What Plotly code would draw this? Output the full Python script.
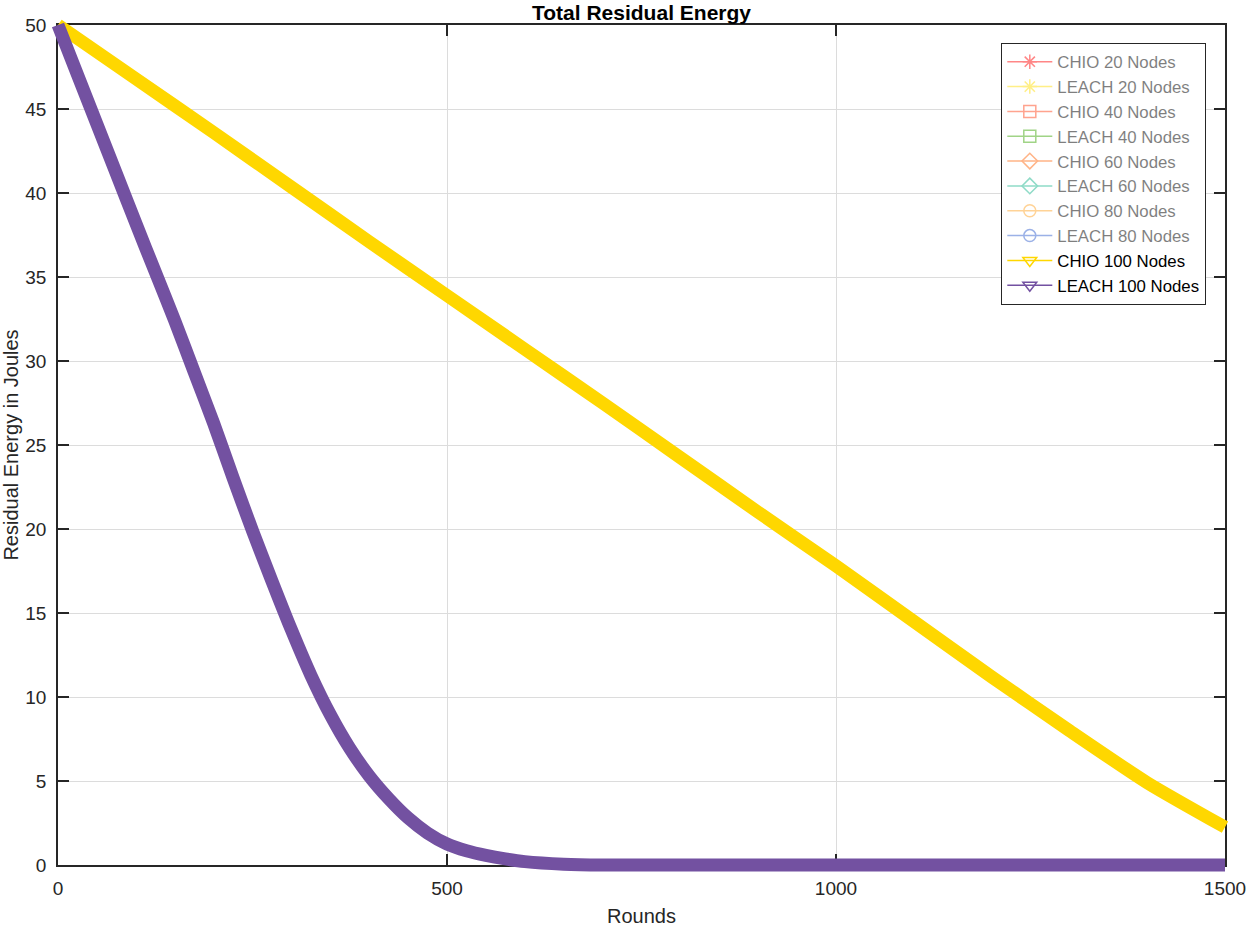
import plotly.graph_objects as go

# ---------------- data ----------------
rounds_chio = [0, 100, 200, 300, 400, 500, 600, 700, 800, 900, 1000,
               1100, 1200, 1300, 1400, 1500]
chio_100 = [50.0, 46.8, 43.6, 40.35, 37.1, 33.9, 30.7, 27.5, 24.25, 21.0, 17.8,
            14.5, 11.2, 8.0, 4.9, 2.25]

rounds_leach = [0, 25, 50, 75, 100, 125, 150, 175, 200, 225, 250, 275, 300, 325,
                350, 375, 400, 425, 450, 475, 500, 525, 550, 575, 600, 650, 700,
                800, 900, 1000, 1100, 1200, 1300, 1400, 1500]
leach_100 = [50.0, 47.05, 44.1, 41.15, 38.2, 35.3, 32.4, 29.35, 26.3, 23.05, 19.9,
             16.9, 14.0, 11.3, 8.95, 6.95, 5.3, 3.95, 2.8, 1.9, 1.25, 0.85, 0.57,
             0.36, 0.2, 0.05, 0.0, 0.0, 0.0, 0.0, 0.0, 0.0, 0.0, 0.0, 0.0]

legend_names = ["CHIO 20 Nodes", "LEACH 20 Nodes", "CHIO 40 Nodes", "LEACH 40 Nodes",
                "CHIO 60 Nodes", "LEACH 60 Nodes", "CHIO 80 Nodes", "LEACH 80 Nodes",
                "CHIO 100 Nodes", "LEACH 100 Nodes"]
legend_colors = ["#FF1010", "#FFE010", "#FF4A20", "#44AA10", "#FF6A10",
                 "#20B890", "#FFA830", "#3A66D0", "#FFD700", "#7351A1"]
legend_symbols = ["asterisk-open", "asterisk-open", "square-open", "square-open",
                  "diamond-open", "diamond-open", "circle-open", "circle-open",
                  "triangle-down-open", "triangle-down-open"]
legend_shown = [False, False, False, False, False, False, False, False, True, True]

x_ticks = [0, 500, 1000, 1500]
y_ticks = [0, 5, 10, 15, 20, 25, 30, 35, 40, 45, 50]

title_text = "Total Residual Energy"
x_title = "Rounds"
y_title = "Residual Energy in Joules"

# ---------------- layout geometry (pixels) ----------------
W, H = 1250, 927
ML, MR, MT, MB = 38, 5, 5, 42          # figure margins
BOX_L, BOX_R, BOX_T, BOX_B = 58, 1225, 25, 865   # axes box in pixels
X_MIN, X_MAX = 0, 1500
Y_MIN, Y_MAX = 0, 50
LEG_R, LEG_T = 1206, 43
TITLE_Y = 12.5

inner_w = W - ML - MR
inner_h = H - MT - MB
dx0 = (BOX_L - ML) / inner_w
dx1 = (BOX_R - ML) / inner_w
dy0 = (H - MB - BOX_B) / inner_h
dy1 = (H - MB - BOX_T) / inner_h

# overlay axes spanning the whole inner area with the same scale (no clipping at box)
xs = (X_MAX - X_MIN) / (BOX_R - BOX_L)
ys = (Y_MAX - Y_MIN) / (BOX_B - BOX_T)
x2_range = [X_MIN - (BOX_L - ML) * xs, X_MAX + (W - MR - BOX_R) * xs]
y2_range = [Y_MIN - (H - MB - BOX_B) * ys, Y_MAX + (BOX_T - MT) * ys]

FONT = "Liberation Sans, Arial, Helvetica, sans-serif"
AX_COLOR = "#262626"
GRID = "#DCDCDC"

fig = go.Figure()

# legend entries (markers + thin line), on the main axes
for i, (nm, col, sym, shown) in enumerate(zip(legend_names, legend_colors,
                                               legend_symbols, legend_shown)):
    fig.add_trace(go.Scatter(
        x=[None], y=[None], mode="lines+markers", name=nm,
        line=dict(color=col, width=1.5),
        marker=dict(symbol=sym, size=12, color=col, line=dict(color=col, width=1.5)),
        visible=True if shown else "legendonly",
        xaxis="x", yaxis="y", legendgroup=f"g{i}",
    ))

# thick data bands (dense markers in the original)
fig.add_trace(go.Scatter(
    x=rounds_chio, y=chio_100, mode="lines", showlegend=False,
    line=dict(color=legend_colors[8], width=13, shape="spline", smoothing=0.6),
    xaxis="x2", yaxis="y2", hoverinfo="skip",
))
fig.add_trace(go.Scatter(
    x=rounds_leach, y=leach_100, mode="lines", showlegend=False,
    line=dict(color=legend_colors[9], width=13, shape="spline", smoothing=0.8),
    xaxis="x2", yaxis="y2", hoverinfo="skip",
))

axis_common = dict(
    showline=True, linecolor=AX_COLOR, linewidth=1.5, mirror="allticks",
    ticks="inside", ticklen=11, tickwidth=1.5, tickcolor=AX_COLOR,
    showgrid=True, gridcolor=GRID, gridwidth=1, zeroline=False,
    tickfont=dict(family=FONT, size=19, color=AX_COLOR),
    fixedrange=True,
)

fig.update_layout(
    width=W, height=H,
    margin=dict(l=ML, r=MR, t=MT, b=MB, autoexpand=False),
    paper_bgcolor="white", plot_bgcolor="rgba(0,0,0,0)",
    font=dict(family=FONT, color=AX_COLOR),
    title=dict(text=f"<b>{title_text}</b>", x=0.5, xref="paper", xanchor="center",
               y=1 - TITLE_Y / H, yref="container", yanchor="middle",
               font=dict(family=FONT, size=21, color="#000000")),
    xaxis=dict(domain=[dx0, dx1], range=[X_MIN, X_MAX], anchor="y",
               tickvals=x_ticks, ticktext=[str(v) for v in x_ticks],
               ticklabelstandoff=5,
               title=dict(text=x_title, standoff=14,
                          font=dict(family=FONT, size=20, color=AX_COLOR)),
               **axis_common),
    yaxis=dict(domain=[dy0, dy1], range=[Y_MIN, Y_MAX], anchor="x",
               tickvals=y_ticks, ticktext=[str(v) for v in y_ticks],
               ticklabelstandoff=6,
               title=dict(text=y_title, standoff=6,
                          font=dict(family=FONT, size=20, color=AX_COLOR)),
               **axis_common),
    xaxis2=dict(domain=[0, 1], range=x2_range, anchor="y2", visible=False,
                fixedrange=True),
    yaxis2=dict(domain=[0, 1], range=y2_range, anchor="x2", visible=False,
                fixedrange=True),
    legend=dict(x=(LEG_R - ML) / inner_w, y=(H - MB - LEG_T) / inner_h,
                xanchor="right", yanchor="top",
                bgcolor="white", bordercolor=AX_COLOR, borderwidth=1.3,
                font=dict(family=FONT, size=16.8, color="#000000"),
                itemwidth=45,
                traceorder="normal", itemclick=False, itemdoubleclick=False),
    showlegend=True,
)

fig.write_html("out.html", config={"displayModeBar": False},
               post_script="document.body.style.margin='0px';")
